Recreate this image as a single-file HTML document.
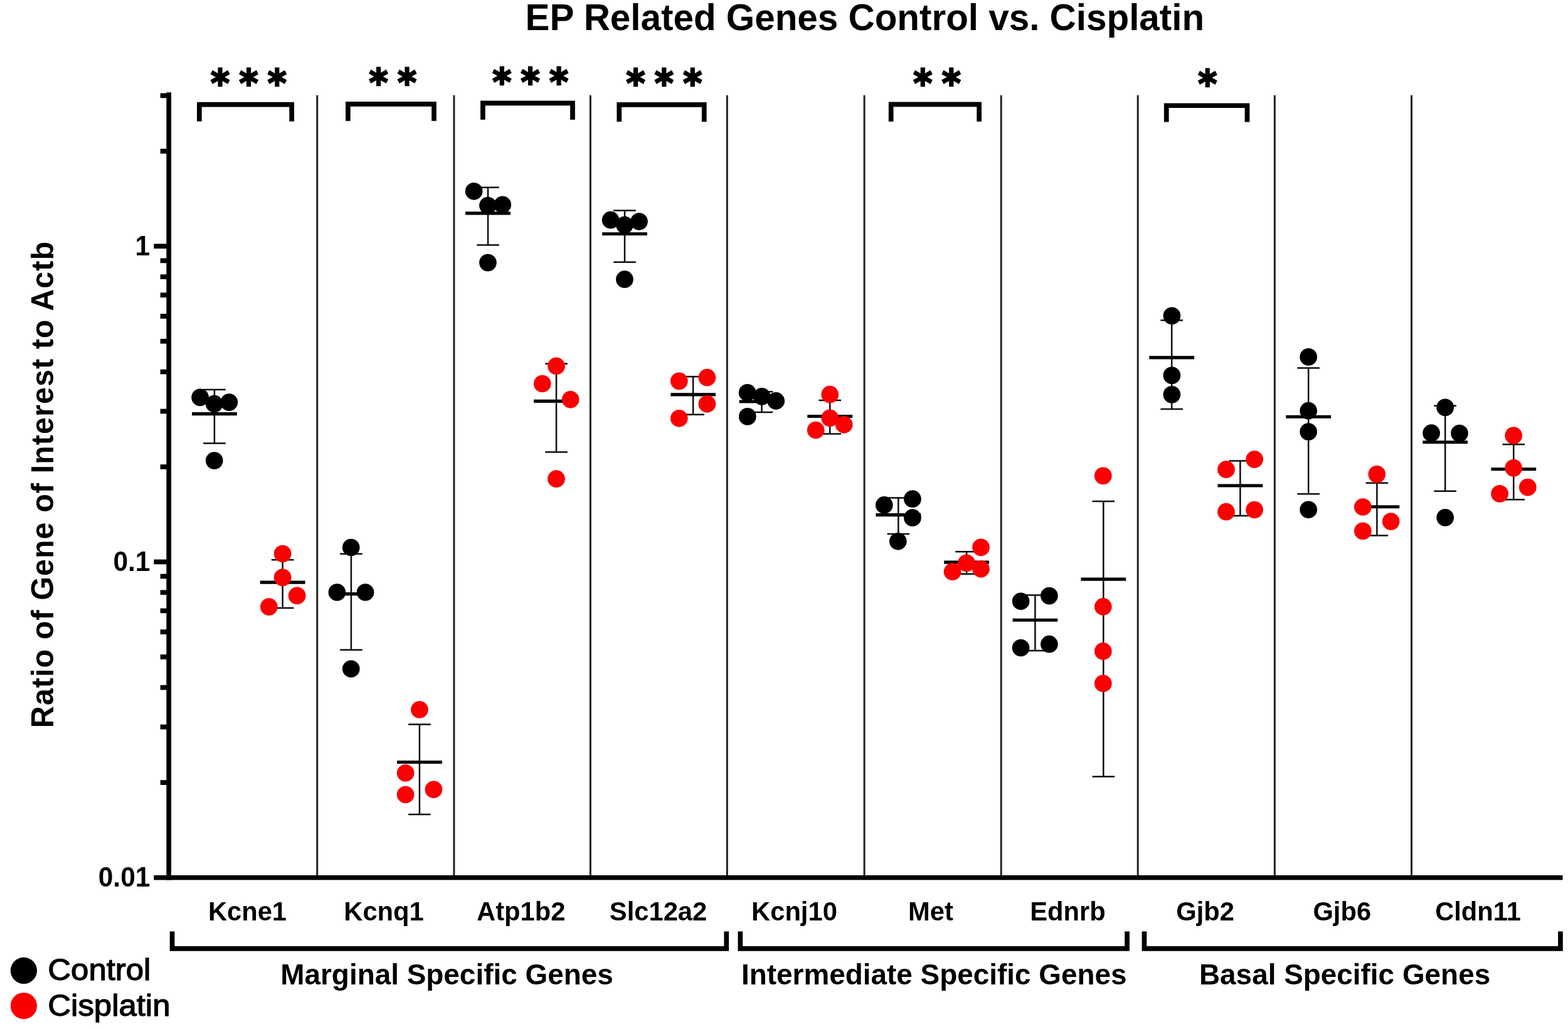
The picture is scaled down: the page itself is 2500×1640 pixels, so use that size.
<!DOCTYPE html>
<html lang="en"><head><meta charset="utf-8"><title>EP Related Genes Control vs. Cisplatin</title>
<style>
html,body{margin:0;padding:0;background:#fff;}
body{width:2500px;height:1640px;overflow:hidden;}
svg{display:block;}
text{font-family:"Liberation Sans",Arial,Helvetica,sans-serif;fill:#000;}
.b{font-weight:bold;}
.lg{stroke:#000;stroke-width:1.3px;stroke-linejoin:round;}
.ast{font-family:"DejaVu Sans","Liberation Sans",sans-serif;font-weight:bold;stroke:#000;stroke-linejoin:miter;}
figure{margin:0;padding:0;width:2500px;height:1640px;}
</style></head><body>
<figure id="chart">
<svg width="2500" height="1640" viewBox="0 0 2500 1640" role="img" aria-label="EP Related Genes Control vs. Cisplatin">
<rect x="0" y="0" width="2500" height="1640" fill="#ffffff"/>
<g id="title">
<text transform="translate(841.50 48.30) scale(1.0000 1.0300)" x="-3.90" y="0" font-size="58.40" class="b">EP Related Genes Control vs. Cisplatin</text>
</g>
<g id="dividers" stroke="#202020" stroke-width="3">
<line x1="505.70" y1="151.7" x2="505.70" y2="1396"/>
<line x1="723.90" y1="151.7" x2="723.90" y2="1396"/>
<line x1="941.35" y1="151.7" x2="941.35" y2="1396"/>
<line x1="1159.30" y1="151.7" x2="1159.30" y2="1396"/>
<line x1="1378.10" y1="151.7" x2="1378.10" y2="1396"/>
<line x1="1596.20" y1="151.7" x2="1596.20" y2="1396"/>
<line x1="1814.20" y1="151.7" x2="1814.20" y2="1396"/>
<line x1="2032.35" y1="151.7" x2="2032.35" y2="1396"/>
<line x1="2250.50" y1="151.7" x2="2250.50" y2="1396"/>
</g>
<g id="data">
<g id="Kcne1-control">
<path d="M324.1 621.1H359.7M324.1 706.5H359.7M341.9 621.1V706.5" stroke="#0d0d0d" stroke-width="2.5" fill="none"/>
<path d="M306.0 659.6H377.8" stroke="#000" stroke-width="5.1" fill="none"/>
<path d="M305.25 633.40a13.85 13.85 0 1 0 27.70 0a13.85 13.85 0 1 0 -27.70 0ZM327.85 643.70a13.85 13.85 0 1 0 27.70 0a13.85 13.85 0 1 0 -27.70 0ZM351.45 641.10a13.85 13.85 0 1 0 27.70 0a13.85 13.85 0 1 0 -27.70 0ZM327.85 734.10a13.85 13.85 0 1 0 27.70 0a13.85 13.85 0 1 0 -27.70 0Z" fill="#000" fill-rule="nonzero"/>
</g>
<g id="Kcne1-cisplatin">
<path d="M432.8 892.2H468.4M432.8 969.1H468.4M450.6 892.2V969.1" stroke="#0d0d0d" stroke-width="2.5" fill="none"/>
<path d="M414.7 928.1H486.5" stroke="#000" stroke-width="5.1" fill="none"/>
<path d="M436.75 882.50a13.85 13.85 0 1 0 27.70 0a13.85 13.85 0 1 0 -27.70 0ZM436.75 920.40a13.85 13.85 0 1 0 27.70 0a13.85 13.85 0 1 0 -27.70 0ZM459.75 949.40a13.85 13.85 0 1 0 27.70 0a13.85 13.85 0 1 0 -27.70 0ZM414.95 967.10a13.85 13.85 0 1 0 27.70 0a13.85 13.85 0 1 0 -27.70 0Z" fill="#fa0000" fill-rule="nonzero"/>
</g>
<g id="Kcnq1-control">
<path d="M542.1 882.8H577.7M542.1 1035.7H577.7M559.9 882.8V1035.7" stroke="#0d0d0d" stroke-width="2.5" fill="none"/>
<path d="M524.0 946.6H595.8" stroke="#000" stroke-width="5.1" fill="none"/>
<path d="M545.85 872.50a13.85 13.85 0 1 0 27.70 0a13.85 13.85 0 1 0 -27.70 0ZM523.55 944.00a13.85 13.85 0 1 0 27.70 0a13.85 13.85 0 1 0 -27.70 0ZM568.65 944.00a13.85 13.85 0 1 0 27.70 0a13.85 13.85 0 1 0 -27.70 0ZM545.85 1066.00a13.85 13.85 0 1 0 27.70 0a13.85 13.85 0 1 0 -27.70 0Z" fill="#000" fill-rule="nonzero"/>
</g>
<g id="Kcnq1-cisplatin">
<path d="M651.1 1154.6H686.7M651.1 1298.0H686.7M668.9 1154.6V1298.0" stroke="#0d0d0d" stroke-width="2.5" fill="none"/>
<path d="M633.0 1214.8H704.8" stroke="#000" stroke-width="5.1" fill="none"/>
<path d="M655.05 1131.00a13.85 13.85 0 1 0 27.70 0a13.85 13.85 0 1 0 -27.70 0ZM632.75 1232.00a13.85 13.85 0 1 0 27.70 0a13.85 13.85 0 1 0 -27.70 0ZM677.55 1258.30a13.85 13.85 0 1 0 27.70 0a13.85 13.85 0 1 0 -27.70 0ZM632.75 1266.50a13.85 13.85 0 1 0 27.70 0a13.85 13.85 0 1 0 -27.70 0Z" fill="#fa0000" fill-rule="nonzero"/>
</g>
<g id="Atp1b2-control">
<path d="M760.2 298.7H795.8M760.2 390.4H795.8M778.0 298.7V390.4" stroke="#0d0d0d" stroke-width="2.5" fill="none"/>
<path d="M742.1 339.9H813.9" stroke="#000" stroke-width="5.1" fill="none"/>
<path d="M741.75 304.80a13.85 13.85 0 1 0 27.70 0a13.85 13.85 0 1 0 -27.70 0ZM764.05 327.60a13.85 13.85 0 1 0 27.70 0a13.85 13.85 0 1 0 -27.70 0ZM787.35 326.30a13.85 13.85 0 1 0 27.70 0a13.85 13.85 0 1 0 -27.70 0ZM764.05 418.60a13.85 13.85 0 1 0 27.70 0a13.85 13.85 0 1 0 -27.70 0Z" fill="#000" fill-rule="nonzero"/>
</g>
<g id="Atp1b2-cisplatin">
<path d="M869.2 579.7H904.8M869.2 720.6H904.8M887.0 579.7V720.6" stroke="#0d0d0d" stroke-width="2.5" fill="none"/>
<path d="M851.1 639.4H922.9" stroke="#000" stroke-width="5.1" fill="none"/>
<path d="M873.15 583.50a13.85 13.85 0 1 0 27.70 0a13.85 13.85 0 1 0 -27.70 0ZM850.85 611.50a13.85 13.85 0 1 0 27.70 0a13.85 13.85 0 1 0 -27.70 0ZM895.75 636.80a13.85 13.85 0 1 0 27.70 0a13.85 13.85 0 1 0 -27.70 0ZM873.15 763.20a13.85 13.85 0 1 0 27.70 0a13.85 13.85 0 1 0 -27.70 0Z" fill="#fa0000" fill-rule="nonzero"/>
</g>
<g id="Slc12a2-control">
<path d="M978.2 335.6H1013.8M978.2 417.8H1013.8M996.0 335.6V417.8" stroke="#0d0d0d" stroke-width="2.5" fill="none"/>
<path d="M960.1 372.7H1031.9" stroke="#000" stroke-width="5.1" fill="none"/>
<path d="M959.75 350.70a13.85 13.85 0 1 0 27.70 0a13.85 13.85 0 1 0 -27.70 0ZM982.05 358.60a13.85 13.85 0 1 0 27.70 0a13.85 13.85 0 1 0 -27.70 0ZM1005.15 353.00a13.85 13.85 0 1 0 27.70 0a13.85 13.85 0 1 0 -27.70 0ZM982.05 445.20a13.85 13.85 0 1 0 27.70 0a13.85 13.85 0 1 0 -27.70 0Z" fill="#000" fill-rule="nonzero"/>
</g>
<g id="Slc12a2-cisplatin">
<path d="M1087.3 600.2H1122.9M1087.3 660.7H1122.9M1105.1 600.2V660.7" stroke="#0d0d0d" stroke-width="2.5" fill="none"/>
<path d="M1069.2 628.9H1141.0" stroke="#000" stroke-width="5.1" fill="none"/>
<path d="M1068.95 607.40a13.85 13.85 0 1 0 27.70 0a13.85 13.85 0 1 0 -27.70 0ZM1113.55 601.70a13.85 13.85 0 1 0 27.70 0a13.85 13.85 0 1 0 -27.70 0ZM1113.55 643.80a13.85 13.85 0 1 0 27.70 0a13.85 13.85 0 1 0 -27.70 0ZM1068.95 666.80a13.85 13.85 0 1 0 27.70 0a13.85 13.85 0 1 0 -27.70 0Z" fill="#fa0000" fill-rule="nonzero"/>
</g>
<g id="Kcnj10-control">
<path d="M1196.7 624.3H1232.3M1196.7 656.9H1232.3M1214.5 624.3V656.9" stroke="#0d0d0d" stroke-width="2.5" fill="none"/>
<path d="M1178.6 640.0H1250.4" stroke="#000" stroke-width="5.1" fill="none"/>
<path d="M1177.75 625.80a13.85 13.85 0 1 0 27.70 0a13.85 13.85 0 1 0 -27.70 0ZM1200.85 632.00a13.85 13.85 0 1 0 27.70 0a13.85 13.85 0 1 0 -27.70 0ZM1223.35 639.00a13.85 13.85 0 1 0 27.70 0a13.85 13.85 0 1 0 -27.70 0ZM1177.95 663.90a13.85 13.85 0 1 0 27.70 0a13.85 13.85 0 1 0 -27.70 0Z" fill="#000" fill-rule="nonzero"/>
</g>
<g id="Kcnj10-cisplatin">
<path d="M1305.4 637.9H1341.0M1305.4 691.4H1341.0M1323.2 637.9V691.4" stroke="#0d0d0d" stroke-width="2.5" fill="none"/>
<path d="M1287.3 663.5H1359.1" stroke="#000" stroke-width="5.1" fill="none"/>
<path d="M1309.35 628.70a13.85 13.85 0 1 0 27.70 0a13.85 13.85 0 1 0 -27.70 0ZM1309.35 666.30a13.85 13.85 0 1 0 27.70 0a13.85 13.85 0 1 0 -27.70 0ZM1331.85 676.80a13.85 13.85 0 1 0 27.70 0a13.85 13.85 0 1 0 -27.70 0ZM1286.85 685.50a13.85 13.85 0 1 0 27.70 0a13.85 13.85 0 1 0 -27.70 0Z" fill="#fa0000" fill-rule="nonzero"/>
</g>
<g id="Met-control">
<path d="M1414.5 793.4H1450.1M1414.5 851.1H1450.1M1432.3 793.4V851.1" stroke="#0d0d0d" stroke-width="2.5" fill="none"/>
<path d="M1396.4 820.6H1468.2" stroke="#000" stroke-width="5.1" fill="none"/>
<path d="M1395.95 805.00a13.85 13.85 0 1 0 27.70 0a13.85 13.85 0 1 0 -27.70 0ZM1441.05 795.20a13.85 13.85 0 1 0 27.70 0a13.85 13.85 0 1 0 -27.70 0ZM1441.05 825.20a13.85 13.85 0 1 0 27.70 0a13.85 13.85 0 1 0 -27.70 0ZM1417.95 862.80a13.85 13.85 0 1 0 27.70 0a13.85 13.85 0 1 0 -27.70 0Z" fill="#000" fill-rule="nonzero"/>
</g>
<g id="Met-cisplatin">
<path d="M1523.3 879.3H1558.9M1523.3 914.8H1558.9M1541.1 879.3V914.8" stroke="#0d0d0d" stroke-width="2.5" fill="none"/>
<path d="M1505.2 896.1H1577.0" stroke="#000" stroke-width="5.1" fill="none"/>
<path d="M1550.15 872.40a13.85 13.85 0 1 0 27.70 0a13.85 13.85 0 1 0 -27.70 0ZM1527.15 897.40a13.85 13.85 0 1 0 27.70 0a13.85 13.85 0 1 0 -27.70 0ZM1550.15 906.80a13.85 13.85 0 1 0 27.70 0a13.85 13.85 0 1 0 -27.70 0ZM1504.75 911.20a13.85 13.85 0 1 0 27.70 0a13.85 13.85 0 1 0 -27.70 0Z" fill="#fa0000" fill-rule="nonzero"/>
</g>
<g id="Ednrb-control">
<path d="M1632.6 948.5H1668.2M1632.6 1037.0H1668.2M1650.4 948.5V1037.0" stroke="#0d0d0d" stroke-width="2.5" fill="none"/>
<path d="M1614.5 988.2H1686.3" stroke="#000" stroke-width="5.1" fill="none"/>
<path d="M1613.75 958.30a13.85 13.85 0 1 0 27.70 0a13.85 13.85 0 1 0 -27.70 0ZM1659.05 949.60a13.85 13.85 0 1 0 27.70 0a13.85 13.85 0 1 0 -27.70 0ZM1613.75 1032.50a13.85 13.85 0 1 0 27.70 0a13.85 13.85 0 1 0 -27.70 0ZM1659.05 1026.70a13.85 13.85 0 1 0 27.70 0a13.85 13.85 0 1 0 -27.70 0Z" fill="#000" fill-rule="nonzero"/>
</g>
<g id="Ednrb-cisplatin">
<path d="M1741.5 798.9H1777.1M1741.5 1237.7H1777.1M1759.3 798.9V1237.7" stroke="#0d0d0d" stroke-width="2.5" fill="none"/>
<path d="M1723.4 923.1H1795.2" stroke="#000" stroke-width="5.1" fill="none"/>
<path d="M1744.95 758.40a13.85 13.85 0 1 0 27.70 0a13.85 13.85 0 1 0 -27.70 0ZM1744.95 967.00a13.85 13.85 0 1 0 27.70 0a13.85 13.85 0 1 0 -27.70 0ZM1744.95 1038.00a13.85 13.85 0 1 0 27.70 0a13.85 13.85 0 1 0 -27.70 0ZM1744.95 1089.30a13.85 13.85 0 1 0 27.70 0a13.85 13.85 0 1 0 -27.70 0Z" fill="#fa0000" fill-rule="nonzero"/>
</g>
<g id="Gjb2-control">
<path d="M1850.4 510.5H1886.0M1850.4 652.1H1886.0M1868.2 510.5V652.1" stroke="#0d0d0d" stroke-width="2.5" fill="none"/>
<path d="M1832.3 569.9H1904.1" stroke="#000" stroke-width="5.1" fill="none"/>
<path d="M1854.55 503.30a13.85 13.85 0 1 0 27.70 0a13.85 13.85 0 1 0 -27.70 0ZM1854.55 598.30a13.85 13.85 0 1 0 27.70 0a13.85 13.85 0 1 0 -27.70 0ZM1854.55 628.80a13.85 13.85 0 1 0 27.70 0a13.85 13.85 0 1 0 -27.70 0Z" fill="#000" fill-rule="nonzero"/>
</g>
<g id="Gjb2-cisplatin">
<path d="M1959.6 734.4H1995.2M1959.6 821.9H1995.2M1977.4 734.4V821.9" stroke="#0d0d0d" stroke-width="2.5" fill="none"/>
<path d="M1941.5 774.0H2013.3" stroke="#000" stroke-width="5.1" fill="none"/>
<path d="M1941.15 748.20a13.85 13.85 0 1 0 27.70 0a13.85 13.85 0 1 0 -27.70 0ZM1986.25 732.10a13.85 13.85 0 1 0 27.70 0a13.85 13.85 0 1 0 -27.70 0ZM1941.15 815.70a13.85 13.85 0 1 0 27.70 0a13.85 13.85 0 1 0 -27.70 0ZM1986.25 812.50a13.85 13.85 0 1 0 27.70 0a13.85 13.85 0 1 0 -27.70 0Z" fill="#fa0000" fill-rule="nonzero"/>
</g>
<g id="Gjb6-control">
<path d="M2068.4 586.6H2104.0M2068.4 787.2H2104.0M2086.2 586.6V787.2" stroke="#0d0d0d" stroke-width="2.5" fill="none"/>
<path d="M2050.3 664.3H2122.1" stroke="#000" stroke-width="5.1" fill="none"/>
<path d="M2072.35 568.90a13.85 13.85 0 1 0 27.70 0a13.85 13.85 0 1 0 -27.70 0ZM2072.35 654.70a13.85 13.85 0 1 0 27.70 0a13.85 13.85 0 1 0 -27.70 0ZM2072.35 688.10a13.85 13.85 0 1 0 27.70 0a13.85 13.85 0 1 0 -27.70 0ZM2072.35 812.30a13.85 13.85 0 1 0 27.70 0a13.85 13.85 0 1 0 -27.70 0Z" fill="#000" fill-rule="nonzero"/>
</g>
<g id="Gjb6-cisplatin">
<path d="M2177.6 769.8H2213.2M2177.6 853.5H2213.2M2195.4 769.8V853.5" stroke="#0d0d0d" stroke-width="2.5" fill="none"/>
<path d="M2159.5 807.8H2231.3" stroke="#000" stroke-width="5.1" fill="none"/>
<path d="M2181.45 755.90a13.85 13.85 0 1 0 27.70 0a13.85 13.85 0 1 0 -27.70 0ZM2159.05 808.00a13.85 13.85 0 1 0 27.70 0a13.85 13.85 0 1 0 -27.70 0ZM2203.85 831.10a13.85 13.85 0 1 0 27.70 0a13.85 13.85 0 1 0 -27.70 0ZM2159.05 846.40a13.85 13.85 0 1 0 27.70 0a13.85 13.85 0 1 0 -27.70 0Z" fill="#fa0000" fill-rule="nonzero"/>
</g>
<g id="Cldn11-control">
<path d="M2286.4 646.8H2322.0M2286.4 782.7H2322.0M2304.2 646.8V782.7" stroke="#0d0d0d" stroke-width="2.5" fill="none"/>
<path d="M2268.3 704.8H2340.1" stroke="#000" stroke-width="5.1" fill="none"/>
<path d="M2290.35 649.40a13.85 13.85 0 1 0 27.70 0a13.85 13.85 0 1 0 -27.70 0ZM2268.25 690.20a13.85 13.85 0 1 0 27.70 0a13.85 13.85 0 1 0 -27.70 0ZM2313.15 690.60a13.85 13.85 0 1 0 27.70 0a13.85 13.85 0 1 0 -27.70 0ZM2290.35 824.90a13.85 13.85 0 1 0 27.70 0a13.85 13.85 0 1 0 -27.70 0Z" fill="#000" fill-rule="nonzero"/>
</g>
<g id="Cldn11-cisplatin">
<path d="M2395.5 708.2H2431.1M2395.5 796.3H2431.1M2413.3 708.2V796.3" stroke="#0d0d0d" stroke-width="2.5" fill="none"/>
<path d="M2377.4 747.7H2449.2" stroke="#000" stroke-width="5.1" fill="none"/>
<path d="M2399.35 694.10a13.85 13.85 0 1 0 27.70 0a13.85 13.85 0 1 0 -27.70 0ZM2399.35 745.80a13.85 13.85 0 1 0 27.70 0a13.85 13.85 0 1 0 -27.70 0ZM2421.95 776.60a13.85 13.85 0 1 0 27.70 0a13.85 13.85 0 1 0 -27.70 0ZM2377.25 786.90a13.85 13.85 0 1 0 27.70 0a13.85 13.85 0 1 0 -27.70 0Z" fill="#fa0000" fill-rule="nonzero"/>
</g>
</g>
<g id="axes" stroke="#000" stroke-width="7.7" fill="none">
<path d="M269.15 147.2V1402.60"/>
<path d="M245.3 1398.75H2491.50"/>
<path d="M255.6 152.36H269.15"/>
<path d="M255.6 240.95H269.15"/>
<path d="M245.3 392.40H269.15"/>
<path d="M255.6 415.42H269.15"/>
<path d="M255.6 441.16H269.15"/>
<path d="M255.6 470.33H269.15"/>
<path d="M255.6 504.01H269.15"/>
<path d="M255.6 543.85H269.15"/>
<path d="M255.6 592.60H269.15"/>
<path d="M255.6 655.46H269.15"/>
<path d="M255.6 744.05H269.15"/>
<path d="M245.3 895.50H269.15"/>
<path d="M255.6 918.52H269.15"/>
<path d="M255.6 944.26H269.15"/>
<path d="M255.6 973.43H269.15"/>
<path d="M255.6 1007.11H269.15"/>
<path d="M255.6 1046.95H269.15"/>
<path d="M255.6 1095.70H269.15"/>
<path d="M255.6 1158.56H269.15"/>
<path d="M255.6 1247.15H269.15"/>
</g>
<g id="y-tick-labels">
<text transform="translate(215.50 407.40) scale(1 1.04)" x="0" y="0" font-size="42.5" class="b">1</text>
<text transform="translate(180.40 910.30) scale(1 1.04)" x="0" y="0" font-size="42.5" class="b">0.1</text>
<text transform="translate(156.70 1413.40) scale(1 1.04)" x="0" y="0" font-size="42.5" class="b">0.01</text>
</g>
<text transform="translate(84.5 1157.0) rotate(-90) scale(1 1.045)" x="-3.23" y="0" font-size="48.5" letter-spacing="1.05" class="b">Ratio of Gene of Interest to Actb</text>
<g id="significance">
<path d="M317.85 193.50V166.65H465.15V193.50" stroke="#000" stroke-width="7.7" fill="none" stroke-linejoin="miter"/>
<text class="ast" transform="translate(336.07 154.05) scale(0.957 1)" x="0" y="0" font-size="60.0" stroke-width="2.6" letter-spacing="16.06">***</text>
<path d="M554.85 192.70V165.85H691.95V192.70" stroke="#000" stroke-width="7.7" fill="none" stroke-linejoin="miter"/>
<text class="ast" transform="translate(588.57 153.15) scale(0.957 1)" x="0" y="0" font-size="60.0" stroke-width="2.6" letter-spacing="16.06">**</text>
<path d="M769.85 190.80V164.45H912.95V190.80" stroke="#000" stroke-width="7.7" fill="none" stroke-linejoin="miter"/>
<text class="ast" transform="translate(785.17 151.60) scale(0.957 1)" x="0" y="0" font-size="60.0" stroke-width="2.6" letter-spacing="16.06">***</text>
<path d="M987.25 193.90V166.95H1122.75V193.90" stroke="#000" stroke-width="7.7" fill="none" stroke-linejoin="miter"/>
<text class="ast" transform="translate(998.47 154.00) scale(0.957 1)" x="0" y="0" font-size="60.0" stroke-width="2.6" letter-spacing="16.06">***</text>
<path d="M1420.65 193.80V166.45H1561.15V193.80" stroke="#000" stroke-width="7.7" fill="none" stroke-linejoin="miter"/>
<text class="ast" transform="translate(1456.27 154.35) scale(0.957 1)" x="0" y="0" font-size="60.0" stroke-width="2.6" letter-spacing="16.06">**</text>
<path d="M1859.75 194.40V168.25H1988.55V194.40" stroke="#000" stroke-width="7.7" fill="none" stroke-linejoin="miter"/>
<text class="ast" transform="translate(1910.37 155.10) scale(0.957 1)" x="0" y="0" font-size="60.0" stroke-width="2.6" letter-spacing="16.06">*</text>
</g>
<g id="gene-labels">
<text transform="translate(334.80 1467.20) scale(1.0000 1.0300)" x="-2.92" y="0" font-size="41.70" class="b">Kcne1</text>
<text transform="translate(551.20 1467.20) scale(1.0000 1.0300)" x="-2.92" y="0" font-size="41.70" class="b">Kcnq1</text>
<text transform="translate(761.30 1467.20) scale(1.0000 1.0300)" x="-1.25" y="0" font-size="41.70" class="b">Atp1b2</text>
<text transform="translate(973.10 1467.20) scale(1.0000 1.0300)" x="-1.25" y="0" font-size="41.70" class="b">Slc12a2</text>
<text transform="translate(1201.00 1467.20) scale(1.0000 1.0300)" x="-2.92" y="0" font-size="41.70" class="b">Kcnj10</text>
<text transform="translate(1451.00 1467.20) scale(1.0000 1.0300)" x="-2.92" y="0" font-size="41.70" class="b">Met</text>
<text transform="translate(1645.10 1467.20) scale(1.0000 1.0300)" x="-2.92" y="0" font-size="41.70" class="b">Ednrb</text>
<text transform="translate(1876.90 1467.20) scale(1.0000 1.0300)" x="-1.67" y="0" font-size="41.70" class="b">Gjb2</text>
<text transform="translate(2095.10 1467.20) scale(1.0000 1.0300)" x="-1.67" y="0" font-size="41.70" class="b">Gjb6</text>
<text transform="translate(2289.80 1467.20) scale(1.0000 1.0300)" x="-1.67" y="0" font-size="41.70" class="b">Cldn11</text>
</g>
<g id="categories">
<path d="M274.55 1484.6V1511.85H1158.25V1484.6" stroke="#000" stroke-width="7.7" fill="none" stroke-linejoin="miter"/>
<path d="M1180.35 1484.6V1511.85H1797.05V1484.6" stroke="#000" stroke-width="7.7" fill="none" stroke-linejoin="miter"/>
<path d="M1824.45 1484.6V1511.85H2487.95V1484.6" stroke="#000" stroke-width="7.7" fill="none" stroke-linejoin="miter"/>
<text transform="translate(450.30 1568.80) scale(1.0000 1.0250)" x="-3.06" y="0" font-size="45.90" class="b">Marginal Specific Genes</text>
<text transform="translate(1185.00 1569.00) scale(1.0000 1.0250)" x="-3.06" y="0" font-size="45.90" class="b">Intermediate Specific Genes</text>
<text transform="translate(1915.00 1568.90) scale(1.0000 1.0250)" x="-3.06" y="0" font-size="45.90" class="b">Basal Specific Genes</text>
</g>
<g id="legend">
<circle cx="37.9" cy="1546.9" r="21.1" fill="#000"/>
<circle cx="37.9" cy="1603.1" r="21.1" fill="#fa0000"/>
<text transform="translate(78.90 1562.00) scale(1.0600 1.0000)" x="-2.40" y="0" font-size="48.00" class="lg">Control</text>
<text transform="translate(78.90 1619.00) scale(1.0600 1.0000)" x="-2.40" y="0" font-size="48.00" class="lg">Cisplatin</text>
</g>
</svg>
</figure>
</body></html>
